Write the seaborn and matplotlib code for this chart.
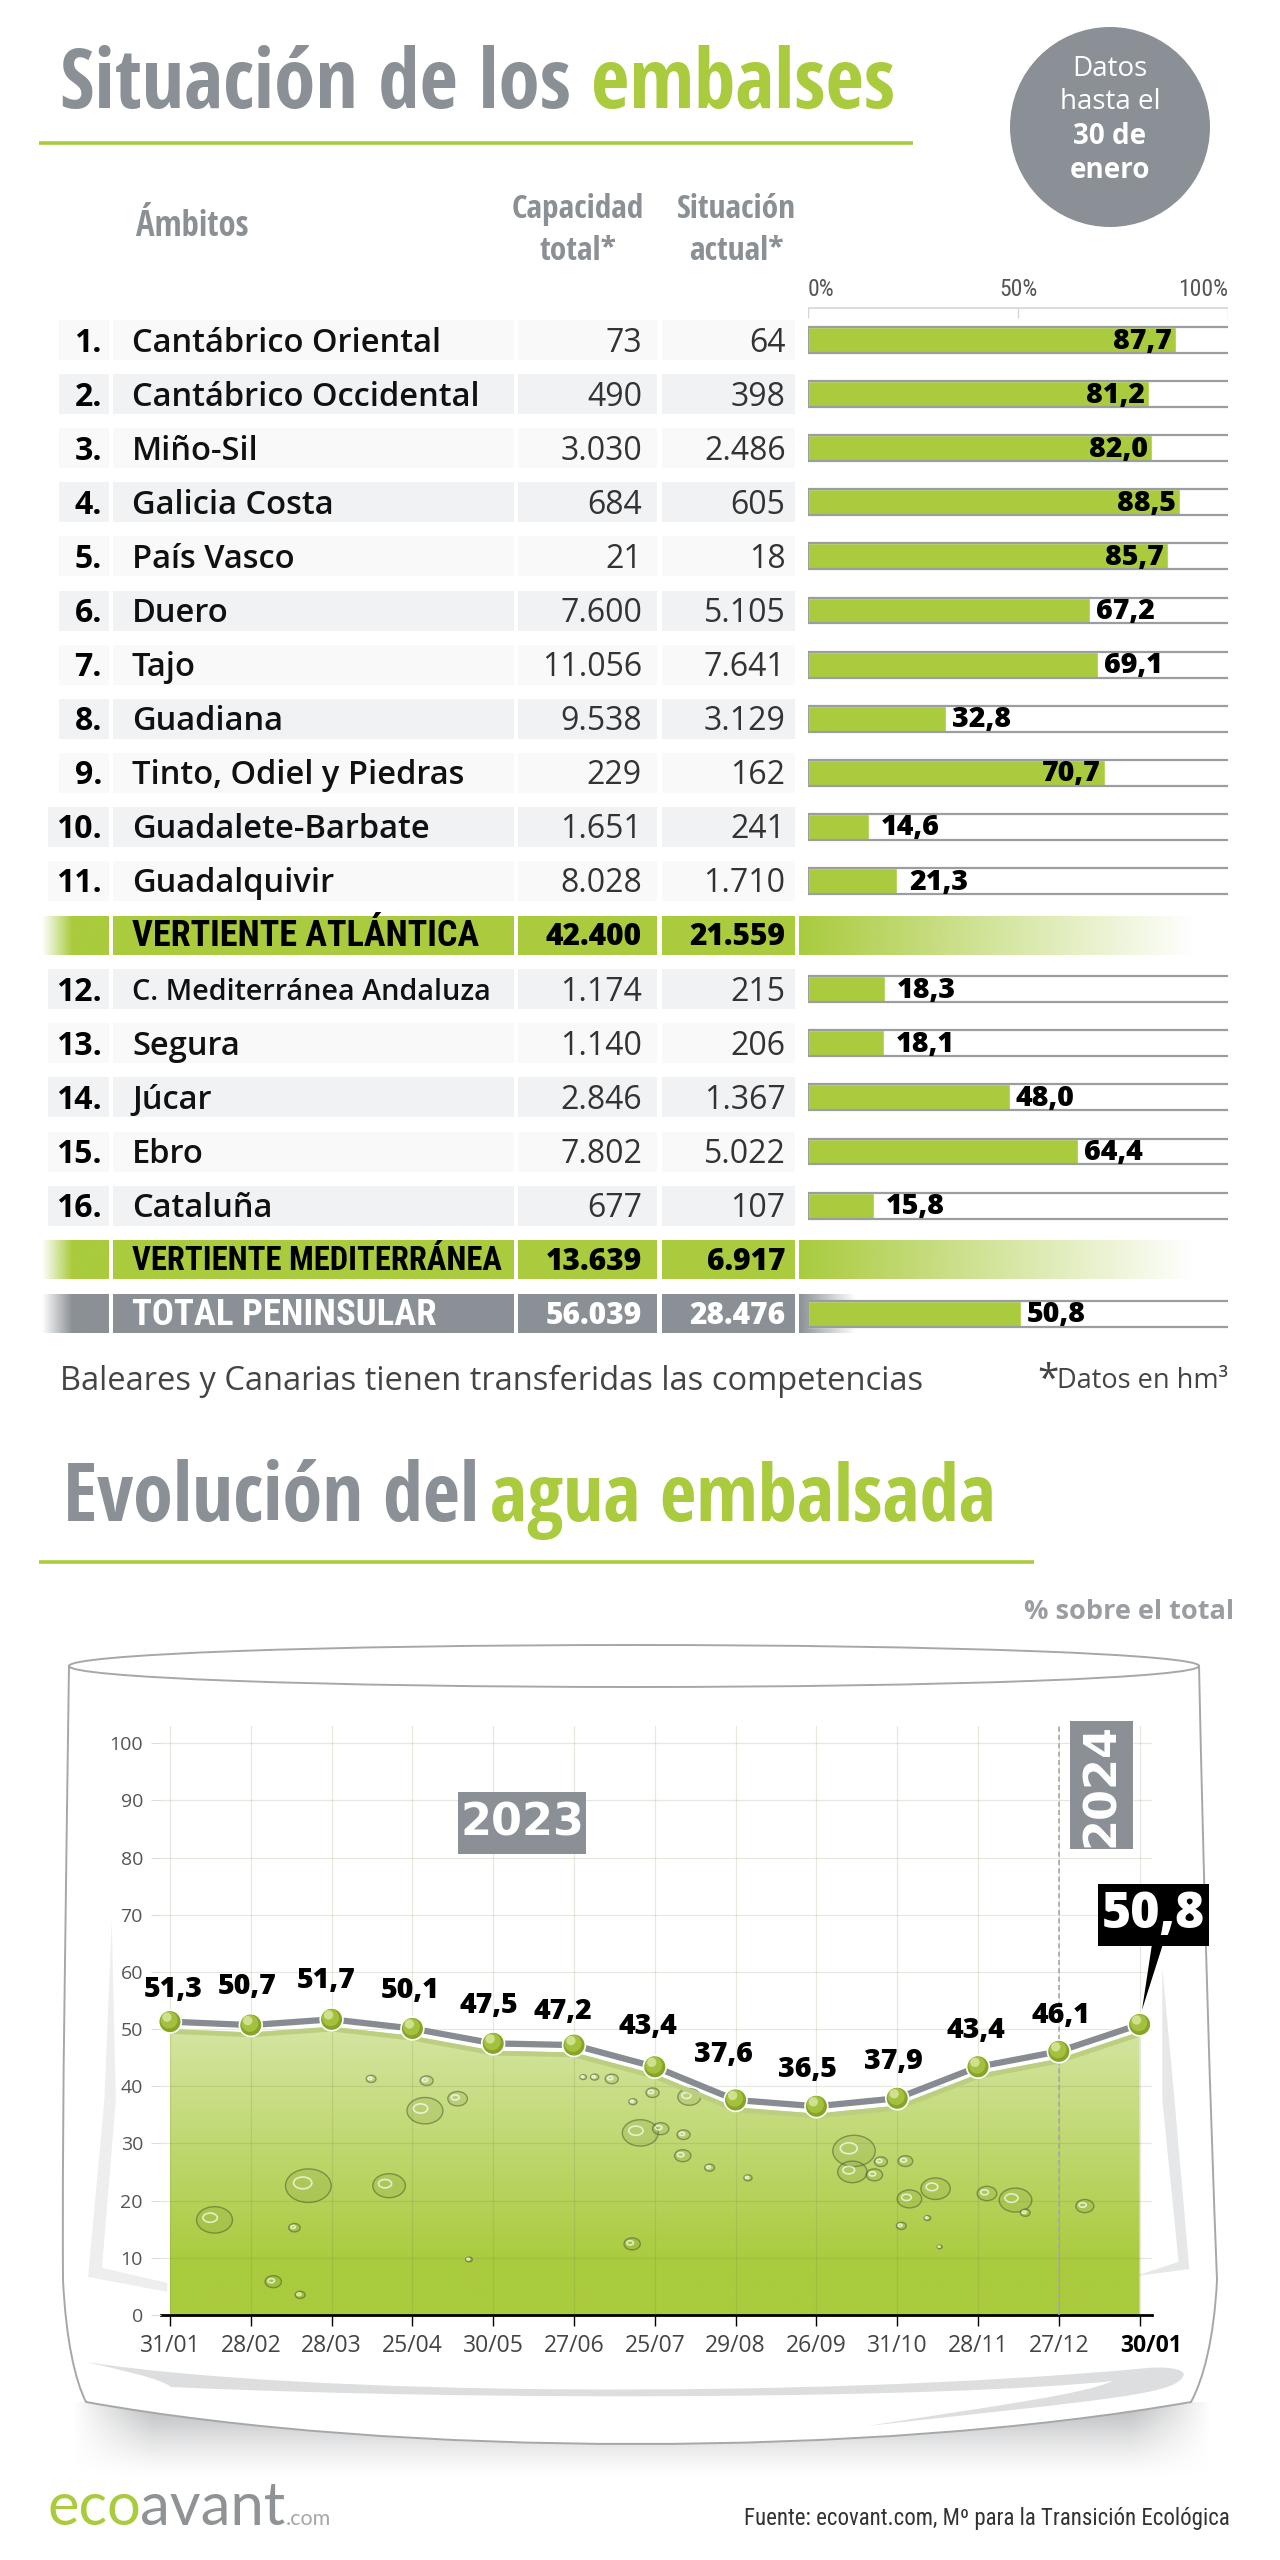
"""Situacion de los embalses: tabla con barras y evolucion del agua embalsada."""

import numpy as np
import pandas as pd
import matplotlib.pyplot as plt
import seaborn as sns
from matplotlib.colors import to_rgb
from matplotlib.patches import Circle, Ellipse, PathPatch, Polygon, Rectangle
from matplotlib.path import Path
from matplotlib.transforms import ScaledTranslation

# Tabla por ambitos
BASINS_ATL = ["Cantábrico Oriental", "Cantábrico Occidental", "Miño-Sil", "Galicia Costa",
              "País Vasco", "Duero", "Tajo", "Guadiana", "Tinto, Odiel y Piedras",
              "Guadalete-Barbate", "Guadalquivir"]
CAPACITY_ATL = [73, 490, 3030, 684, 21, 7600, 11056, 9538, 229, 1651, 8028]
CURRENT_ATL = [64, 398, 2486, 605, 18, 5105, 7641, 3129, 162, 241, 1710]
PCT_ATL = [87.7, 81.2, 82.0, 88.5, 85.7, 67.2, 69.1, 32.8, 70.7, 14.6, 21.3]

BASINS_MED = ["C. Mediterránea Andaluza", "Segura", "Júcar", "Ebro", "Cataluña"]
CAPACITY_MED = [1174, 1140, 2846, 7802, 677]
CURRENT_MED = [215, 206, 1367, 5022, 107]
PCT_MED = [18.3, 18.1, 48.0, 64.4, 15.8]

GROUP_NAMES = ["VERTIENTE ATLÁNTICA", "VERTIENTE MEDITERRÁNEA", "TOTAL PENINSULAR"]
GROUP_CAPACITY = [42400, 13639, 56039]
GROUP_CURRENT = [21559, 6917, 28476]
TOTAL_PCT = 50.8

# Evolucion
DATES = ["31/01", "28/02", "28/03", "25/04", "30/05", "27/06", "25/07",
         "29/08", "26/09", "31/10", "28/11", "27/12", "30/01"]
LEVELS = [51.3, 50.7, 51.7, 50.1, 47.5, 47.2, 43.4, 37.6, 36.5, 37.9, 43.4, 46.1, 50.8]

GREEN = "#a9cb3d"
GREY = "#8a9095"
W, H = 1280, 2560
NARROW = ["Open Sans Condensed", "Roboto Condensed", "Open Sans"]
NARROW_REG = ["Roboto Condensed", "Open Sans"]
SANS = ["Open Sans", "DejaVu Sans"]

sns.set_theme(style="white")
plt.rcParams["font.family"] = SANS


def fmt_int(v):
    return f"{v:,}".replace(",", ".")


def fmt_dec(v):
    return f"{v:.1f}".replace(".", ",")


def px_axes(fig, x0, y0, x1, y1, zorder=1):
    """Ejes colocados en pixeles de la imagen (y hacia abajo)."""
    ax = fig.add_axes([x0 / W, 1 - y1 / H, (x1 - x0) / W, (y1 - y0) / H], zorder=zorder)
    ax.patch.set_alpha(0)
    return ax


def fade(ax, x0, x1, y0, y1, color, a0, a1, soft=1.0, zorder=1):
    """Rectangulo con degradado horizontal de transparencia."""
    n = 200
    t = np.clip(np.linspace(0, 1, n) / soft, 0, 1)
    img = np.ones((1, n, 4))
    img[..., :3] = to_rgb(color)
    img[..., 3] = (a0 + (a1 - a0) * t).reshape(1, n)
    ax.imshow(img, extent=(x0, x1, y1, y0), aspect="auto", zorder=zorder, interpolation="bilinear")
    ax.set_xlim(0, W)
    ax.set_ylim(H, 0)


def z3(x, y):
    return x / 1.226, y / 1.667 + 1620


fig = plt.figure(figsize=(W / 100, H / 100), dpi=100, facecolor="white")
bg = px_axes(fig, 0, 0, W, H, zorder=0)
bg.set_xlim(0, W)
bg.set_ylim(H, 0)
bg.axis("off")

# ---------------------------------------------------------------------------
# Cabecera
# ---------------------------------------------------------------------------
bg.text(60, 108, "Situación de los", color=GREY, family=NARROW, weight="bold", fontsize=60, va="baseline")
bg.text(591, 108, "embalses", color=GREEN, family=NARROW, weight="bold", fontsize=60, va="baseline")
bg.plot([39, 913], [143, 143], color=GREEN, lw=2.6, solid_capstyle="butt")

bg.add_patch(Circle((1110, 127), 100, color=GREY, lw=0))
for txt, yy, wgt in [("Datos", 69, "normal"), ("hasta el", 102, "normal"),
                     ("30 de", 136, "bold"), ("enero", 170, "bold")]:
    bg.text(1110, yy, txt, color="white", ha="center", va="center", fontsize=20, weight=wgt)

bg.text(136, 227, "Ámbitos", color=GREY, family=NARROW, weight="bold", fontsize=25, va="center")
for cx, lines in [(578, ["Capacidad", "total*"]), (736, ["Situación", "actual*"])]:
    bg.text(cx, 210, lines[0], color=GREY, family=NARROW, weight="bold", fontsize=24, ha="center", va="center")
    bg.text(cx, 252, lines[1], color=GREY, family=NARROW, weight="bold", fontsize=24, ha="center", va="center")

# ---------------------------------------------------------------------------
# Tabla
# ---------------------------------------------------------------------------
names = BASINS_ATL + [GROUP_NAMES[0]] + BASINS_MED + [GROUP_NAMES[1], GROUP_NAMES[2]]
capacity = CAPACITY_ATL + [GROUP_CAPACITY[0]] + CAPACITY_MED + [GROUP_CAPACITY[1], GROUP_CAPACITY[2]]
current = CURRENT_ATL + [GROUP_CURRENT[0]] + CURRENT_MED + [GROUP_CURRENT[1], GROUP_CURRENT[2]]
pct = PCT_ATL + [np.nan] + PCT_MED + [np.nan, TOTAL_PCT]
table = pd.DataFrame({"name": names, "capacity": capacity, "current": current, "pct": pct})

ROW0, STEP = 340, 54.1
COLS = [(112.5, 514), (518, 657), (661.5, 794.5)]
GROUP_SIZE = {GROUP_NAMES[0]: 26, GROUP_NAMES[1]: 23.5, GROUP_NAMES[2]: 26.5}
rank = 0
for i, row in table.iterrows():
    yc = ROW0 + STEP * i
    if row["name"] in GROUP_NAMES:
        fill = GREY if row["name"] == GROUP_NAMES[2] else GREEN
        ink = "white" if fill == GREY else "black"
        for x0, x1 in COLS:
            bg.add_patch(Rectangle((x0, yc - 19.5), x1 - x0, 39, color=fill, lw=0))
        fade(bg, 42, 109, yc - 19.5, yc + 19.5, fill, 0, 1, soft=0.45)
        fade(bg, 798.5, 1195 if fill == GREEN else 855, yc - 19.5, yc + 19.5, fill, 1, 0)
        bg.text(132, yc + 1, row["name"], color=ink, weight="bold", fontsize=GROUP_SIZE[row["name"]],
                va="center", family=NARROW_REG)
        for xr, col in [(642, "capacity"), (785.5, "current")]:
            bg.text(xr, yc + 2, fmt_int(row[col]), color=ink, weight=800, fontsize=21.5, ha="right", va="center")
    else:
        rank += 1
        shade = "#f9f9fa" if rank % 2 else "#f1f2f4"
        bg.add_patch(Rectangle((59 if rank < 10 else 48, yc - 20), 50 if rank < 10 else 61, 40, color=shade, lw=0))
        for x0, x1 in COLS:
            bg.add_patch(Rectangle((x0, yc - 20), x1 - x0, 40, color=shade, lw=0))
        bg.text(102, yc + 3, f"{rank}.", color="black", weight="bold", fontsize=23, ha="right", va="center")
        size = 20.7 if len(row["name"]) > 22 else 23.5
        bg.text(132, yc + 3, row["name"], color="#111111", weight="semibold", fontsize=size, va="center")
        for xr, col in [(642, "capacity"), (785.5, "current")]:
            bg.text(xr, yc + 3, fmt_int(row[col]), color="#333333", fontsize=23, ha="right", va="center")

# barras de porcentaje
ax_bar = px_axes(fig, 808, 305, 1228, 1340, zorder=2)
sns.barplot(data=table, x="pct", y="name", order=names, color=GREEN, saturation=1,
            width=0.48, errorbar=None, ax=ax_bar, zorder=2)
ax_bar.set_xlim(0, 100)
ax_bar.set_ylim((1340 - ROW0) / STEP, (305 - ROW0) / STEP)
ax_bar.set_xlabel("")
ax_bar.set_ylabel("")
ax_bar.set_yticks([])
ax_bar.xaxis.tick_top()
ax_bar.set_xticks([0, 50, 100], ["0%", "50%", "100%"], family=NARROW_REG, fontsize=17, color="#555555")
ax_bar.tick_params(axis="x", length=0, pad=3)
tick_labels = ax_bar.get_xticklabels()
tick_labels[0].set_ha("left")
tick_labels[2].set_ha("right")
sns.despine(ax=ax_bar, left=True, right=True, top=True, bottom=True)

ax_bar.hlines(-0.6, 0, 100, color="#d4d6d8", lw=1.2, clip_on=False)
ax_bar.vlines([0, 50, 100], -0.6, -0.4, color="#d4d6d8", lw=1)
for i, v in enumerate(pct):
    if np.isnan(v):
        continue
    ax_bar.hlines([i - 0.24, i + 0.24], 0, 100, color="#9a9ea2", lw=1.6, zorder=3)
    ax_bar.vlines(0, i - 0.24, i + 0.24, color="#9a9ea2", lw=1, zorder=3)
    inside = v >= 70
    gap = -1 if inside else (2.8 if v < 30 else 1.4)
    ax_bar.text(v + gap, i + 0.02, fmt_dec(v), ha="right" if inside else "left", va="center",
                color="black", weight=800, fontsize=20.5, zorder=4)

bg.text(60, 1381, "Baleares y Canarias tienen transferidas las competencias",
        color="#444444", fontsize=23.5, va="center")
bg.text(1228, 1381, "Datos en hm³", color="#444444", fontsize=19.5, ha="right", va="center")
bg.text(1037, 1381, "*", color="#444444", fontsize=28, ha="left", va="center")

# ---------------------------------------------------------------------------
# Segunda parte
# ---------------------------------------------------------------------------
bg.text(63, 1521, "Evolución del", color=GREY, family=NARROW, weight="bold", fontsize=58, va="baseline")
bg.text(490, 1521, "agua embalsada", color=GREEN, family=NARROW, weight="bold", fontsize=57, va="baseline")
bg.plot([39, 1034], [1562, 1562], color=GREEN, lw=2.6, solid_capstyle="butt")
bg.text(1234, 1612, "% sobre el total", color="#9a9ea2", weight="bold", fontsize=19.5, ha="right", va="center")

# vaso: sombra difuminada bajo la base
sh_w, sh_h = 300, 100
sx = np.clip(np.minimum(np.linspace(0, 1, sh_w), np.linspace(1, 0, sh_w)) * 14, 0, 1)
sy = np.clip(np.linspace(1, 0, sh_h), 0, 1) ** 1.3
shadow = np.ones((sh_h, sh_w, 4))
shadow[..., :3] = to_rgb("#a9abad")
shadow[..., 3] = 0.85 * sy[:, None] * sx[None, :]
bg.imshow(shadow, extent=(71, 1213, 2478, 2402), aspect="auto", zorder=1, interpolation="bilinear")
bg.set_xlim(0, W)
bg.set_ylim(H, 0)

glass = Path([(69, 1665), (66, 1900), (62, 2100), (63, 2280), (66, 2340), (75, 2380), (86, 2402),
              (400, 2458), (870, 2458), (1191, 2402), (1203, 2380), (1214, 2340), (1217, 2280),
              (1210, 2100), (1204, 1900), (1199, 1665), (1199, 1665)],
             [Path.MOVETO] + [Path.CURVE4] * 15 + [Path.LINETO])
bg.add_patch(PathPatch(glass, facecolor="white", edgecolor="#a5a8aa", lw=1.4, zorder=2))
bg.add_patch(Ellipse((634, 1666), 1130, 42, facecolor="white", edgecolor="#a5a8aa", lw=1.4, zorder=3))

# reflejos
side_left = [z3(137, 500), z3(128, 800), z3(108, 1095), z3(205, 1120), z3(205, 1105), z3(125, 1080), z3(142, 800)]
side_right = [z3(1425, 580), z3(1440, 800), z3(1458, 1082), z3(1290, 1112), z3(1400, 1090), z3(1445, 1070), z3(1425, 800)]
bg.add_patch(Polygon(side_left, facecolor="#eeeeef", lw=0, zorder=3))
bg.add_patch(Polygon(side_right, facecolor="#e6e7e8", lw=0, zorder=3))
crescent = Path([(86, 2362), (300, 2395), (800, 2400), (1148, 2368), (1170, 2366), (1190, 2370), (1182, 2378),
                 (1170, 2395), (1100, 2400), (867, 2426), (1000, 2405), (1080, 2395), (1113, 2381),
                 (950, 2398), (500, 2402), (171, 2387), (160, 2378), (120, 2370), (86, 2362)],
                [Path.MOVETO] + [Path.CURVE4] * 18)
bg.add_patch(PathPatch(crescent, facecolor="#dddedf", lw=0, zorder=3))

# grafico de evolucion
X0, DX = 170, 80.8
ax = px_axes(fig, 161, 1726, 1152, 2315, zorder=3)
evol = pd.DataFrame({"pos": np.arange(len(DATES)), "level": LEVELS})
levels = evol["level"].to_numpy()
pos = evol["pos"].to_numpy()

grad = np.ones((256, 1, 3))
stops = np.clip(np.linspace(0, 1, 256) * 1.2, 0, 1)[..., None]
grad[:, 0, :] = (1 - stops) * np.array(to_rgb("#d6e6a6")) + stops * np.array(to_rgb(GREEN))
water_top = levels - 1.3
im = ax.imshow(grad, extent=(-0.03, 12.03, 0, 52), aspect="auto", zorder=1)
water = ax.fill_between(pos, 0, water_top, color="none")
im.set_clip_path(PathPatch(Path(water.get_paths()[0].vertices), transform=ax.transData))

ax.set_xlim((161 - X0) / DX, (1152 - X0) / DX)
ax.set_ylim(0, 103)
ax.set_yticks(np.arange(0, 101, 10))
ax.set_xticks(pos, DATES)
ax.grid(True, color="#6d7a4a", alpha=0.16, lw=0.9, zorder=2)
ax.set_axisbelow(False)
ax.tick_params(axis="x", length=8, width=1, color="black", pad=6, labelsize=16.5, labelcolor="#444444", bottom=True)
ax.tick_params(axis="y", length=7, width=0.8, color="#dddddd", pad=6, labelsize=14, labelcolor="#555555", left=True)
last = ax.get_xticklabels()[-1]
last.set_weight("bold")
last.set_color("black")
last.set_transform(last.get_transform() + ScaledTranslation(12 / 100, 0, fig.dpi_scale_trans))
sns.despine(ax=ax, left=True, right=True, top=True)
ax.spines["bottom"].set_color("black")
ax.spines["bottom"].set_linewidth(2)

# burbujas
BUBBLES = [(263, 1000, 22), (378, 943, 28), (477, 943, 20), (521, 818, 22), (561, 798, 12), (523, 768, 8),
           (455, 765, 6), (361, 1013, 7), (335, 1103, 10), (368, 1125, 6), (575, 1066, 4), (785, 855, 22),
           (810, 848, 10), (845, 795, 14), (800, 788, 8), (776, 803, 5), (750, 765, 8), (729, 762, 5),
           (715, 762, 4), (837, 893, 10), (838, 858, 8), (870, 913, 6), (917, 930, 5), (1047, 885, 26),
           (1045, 920, 18), (1072, 925, 10), (1080, 903, 8), (1110, 902, 9), (1115, 965, 15), (1147, 948, 18),
           (1105, 1010, 6), (1137, 997, 4), (1210, 956, 12), (1245, 967, 20), (1257, 988, 6), (1330, 977, 11),
           (1152, 1045, 3), (775, 1040, 10)]
for bx, by, br in BUBBLES:
    cx, cy = z3(bx, by)
    ax.add_patch(Ellipse((cx, cy), 2 * br / 1.226, 2 * br / 1.667, facecolor=(0.42, 0.52, 0.2, 0.14),
                         edgecolor=(0.3, 0.36, 0.2, 0.55), lw=1, transform=bg.transData, zorder=3))
    ax.add_patch(Ellipse((cx - br * 0.2, cy - br * 0.1), br * 0.8 / 1.226, br * 0.7 / 1.667, facecolor="none",
                         edgecolor=(1, 1, 1, 0.7), lw=1.2, transform=bg.transData, zorder=3))

# fecha 2024 y lineas
ax.axvline(pos[11], color="#a5a8aa", lw=1.2, ls=(0, (3, 2)), zorder=3)
sns.lineplot(x=pos, y=levels - 1.7, color="#bccf80", lw=3.5, ax=ax, zorder=4, errorbar=None)
sns.lineplot(data=evol, x="pos", y="level", color="#878c92", lw=4.5, ax=ax, zorder=5, errorbar=None)
nudge = ax.transData + ScaledTranslation(-0.7 / 72, 1.2 / 72, fig.dpi_scale_trans)
sns.scatterplot(data=evol, x="pos", y="level", s=310, color="white", edgecolor="none", ax=ax, zorder=6, clip_on=False)
sns.scatterplot(data=evol, x="pos", y="level", s=230, color="#86a426", edgecolor="none", ax=ax, zorder=7, clip_on=False)
sns.scatterplot(data=evol, x="pos", y="level", s=150, color="#a4c03f", edgecolor="none", ax=ax, zorder=8,
                clip_on=False, transform=nudge)
sns.scatterplot(data=evol, x="pos", y="level", s=45, color="#cfe08f", edgecolor="none", ax=ax, zorder=8,
                clip_on=False, transform=nudge + ScaledTranslation(-1.5 / 72, 2 / 72, fig.dpi_scale_trans))
ax.set_xlabel("")
ax.set_ylabel("")

LABEL_DX = [3, -4, -5, -2, -4, -11, -7, -12, -9, -4, -2, 2]
LABEL_DY = [32, 39, 39, 38, 38, 34, 40, 45, 37, 37, 36, 36]
for i, v in enumerate(LEVELS[:-1]):
    ax.annotate(fmt_dec(v), (pos[i], v), xytext=(LABEL_DX[i] * 0.72, LABEL_DY[i] * 0.72),
                textcoords="offset points", ha="center", va="center",
                weight=800, fontsize=20.5, color="black", zorder=9)

ax.add_patch(Rectangle((458, 1792), 128, 62, color=GREY, lw=0, transform=bg.transData, zorder=9, clip_on=False))
ax.text(522, 1823, "2023", color="white", weight="bold", family="DejaVu Sans", fontsize=32,
        ha="center", va="center", transform=bg.transData, zorder=10)
ax.add_patch(Rectangle((1070, 1721), 63, 128, color=GREY, lw=0, transform=bg.transData, zorder=9, clip_on=False))
ax.text(1102, 1785, "2024", color="white", weight="bold", family="DejaVu Sans", fontsize=32, rotation=90,
        ha="center", va="center", transform=bg.transData, zorder=10)

ax.add_patch(Polygon([(1152, 1944), (1163, 1944), (1142, 2010)], color="black", lw=0,
                     transform=bg.transData, zorder=9, clip_on=False))
ax.add_patch(Rectangle((1098, 1884), 111, 62, color="black", lw=0, transform=bg.transData, zorder=9, clip_on=False))
ax.text(1153.5, 1915, fmt_dec(LEVELS[-1]), color="white", weight=800, fontsize=36,
        ha="center", va="center", transform=bg.transData, zorder=10)

# pie
bg.text(48, 2525, "eco", color=GREEN, family="Lato", fontsize=43, va="baseline")
bg.text(140, 2525, "avant", color="#8f9396", family="Lato", fontsize=43, va="baseline")
bg.text(286, 2525, ".com", color="#a5a8aa", family="Lato", fontsize=15.5, va="baseline")
bg.text(1230, 2519, "Fuente: ecovant.com, Mº para la Transición Ecológica", color="#333333",
        family=NARROW_REG, fontsize=16.5, ha="right", va="center")

fig.savefig("out.png", dpi=100)
